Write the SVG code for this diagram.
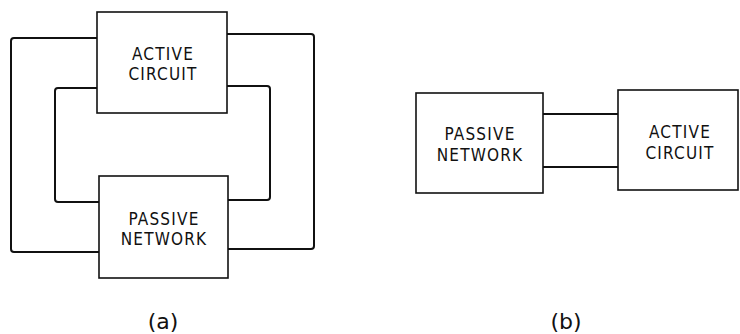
<svg xmlns="http://www.w3.org/2000/svg" width="740" height="334" viewBox="0 0 740 334">
<style>
.box{fill:#fff;stroke:#111;stroke-width:1.6}
.w{fill:none;stroke:#111;stroke-width:2;stroke-linejoin:round}
.t{font-family:"DejaVu Sans Condensed","DejaVu Sans",sans-serif;font-size:17px;fill:#111;text-anchor:middle;letter-spacing:1.2px}
.c{font-family:"DejaVu Sans",sans-serif;font-size:22px;fill:#111;text-anchor:middle}
</style>
<rect width="740" height="334" fill="#fff"/>
<g id="connectors">
<path class="w" d="M97 38 H14 Q11 38 11 41 V249 Q11 252 14 252 H99"/>
<path class="w" d="M227 34 H311 Q314 34 314 37 V246 Q314 249 311 249 H228"/>
<path class="w" d="M97 88 H58 Q55 88 55 91 V199 Q55 202 58 202 H99"/>
<path class="w" d="M227 86 H267 Q270 86 270 89 V197 Q270 200 267 200 H228"/>
<path class="w" d="M543 114 H618"/>
<path class="w" d="M543 167 H618"/>
</g>
<g id="a-active">
<rect class="box" x="97" y="12" width="130" height="101"/>
<text class="t" x="163" y="60">ACTIVE</text>
<text class="t" x="163" y="80">CIRCUIT</text>
</g>
<g id="a-passive">
<rect class="box" x="99" y="176" width="129" height="102"/>
<text class="t" x="164" y="225">PASSIVE</text>
<text class="t" x="164" y="245">NETWORK</text>
</g>
<g id="b-passive">
<rect class="box" x="416" y="93" width="127" height="100"/>
<text class="t" x="480" y="140">PASSIVE</text>
<text class="t" x="480" y="161">NETWORK</text>
</g>
<g id="b-active">
<rect class="box" x="618" y="90" width="120" height="100"/>
<text class="t" x="680" y="138">ACTIVE</text>
<text class="t" x="680" y="159">CIRCUIT</text>
</g>
<text class="c" x="163" y="329">(a)</text>
<text class="c" x="566" y="329">(b)</text>
</svg>
